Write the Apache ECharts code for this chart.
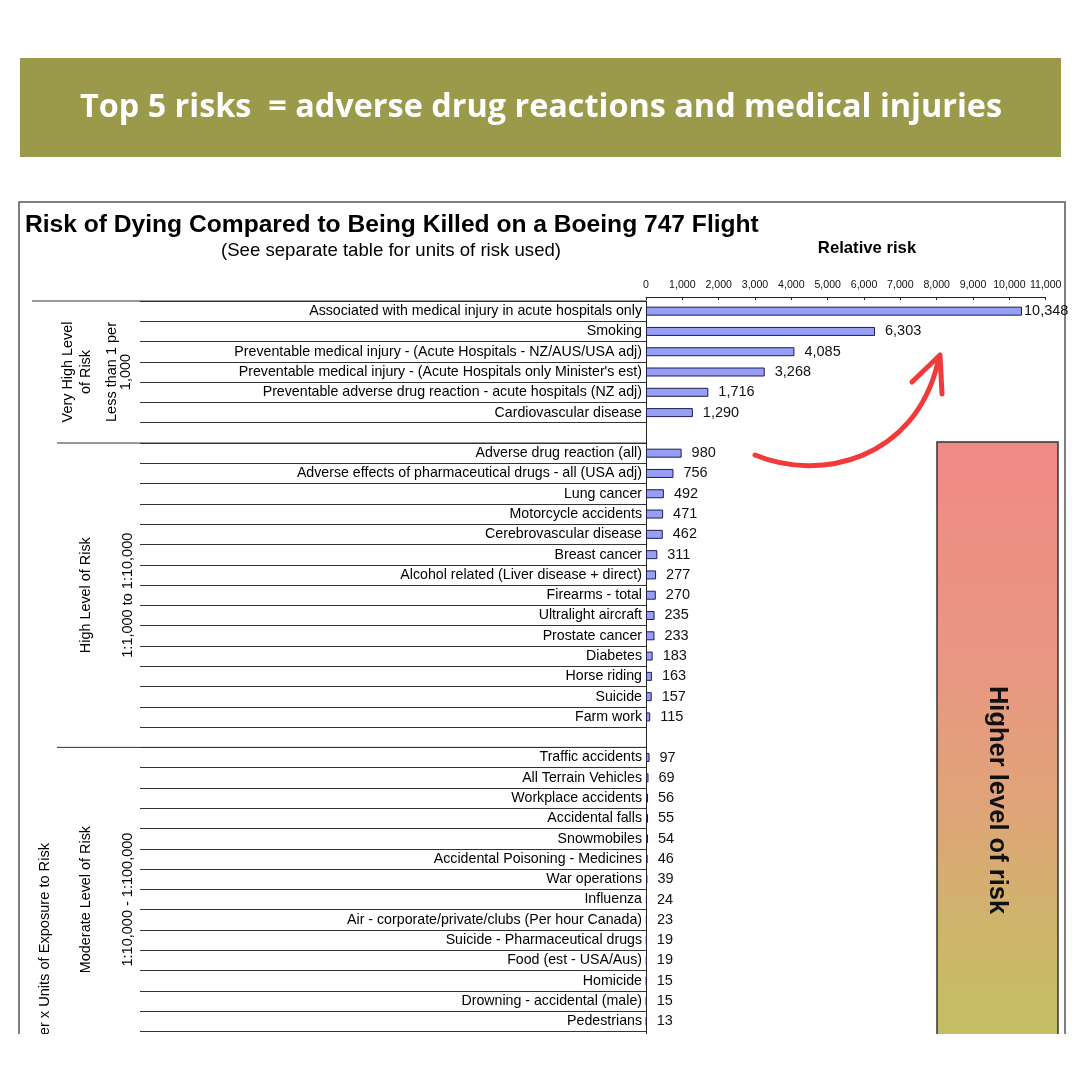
<!DOCTYPE html>
<html>
<head>
<meta charset="utf-8">
<script src="https://cdn.jsdelivr.net/npm/echarts@6/dist/echarts.min.js"></script>
<style>html,body{margin:0;padding:0;background:#fff;}#c{width:1080px;height:1080px;}</style>
</head>
<body>
<div id="c"></div>
<script>
// ---- Data ----
const veryHighNames = [
  'Associated with medical injury in acute hospitals only',
  'Smoking',
  'Preventable medical injury - (Acute Hospitals - NZ/AUS/USA adj)',
  "Preventable medical injury - (Acute Hospitals only Minister's est)",
  'Preventable adverse drug reaction - acute hospitals (NZ adj)',
  'Cardiovascular disease'
];
const veryHighValues = [10348, 6303, 4085, 3268, 1716, 1290];

const highNames = [
  'Adverse drug reaction (all)',
  'Adverse effects of pharmaceutical drugs - all (USA adj)',
  'Lung cancer',
  'Motorcycle accidents',
  'Cerebrovascular disease',
  'Breast cancer',
  'Alcohol related (Liver disease + direct)',
  'Firearms - total',
  'Ultralight aircraft',
  'Prostate cancer',
  'Diabetes',
  'Horse riding',
  'Suicide',
  'Farm work'
];
const highValues = [980, 756, 492, 471, 462, 311, 277, 270, 235, 233, 183, 163, 157, 115];

const moderateNames = [
  'Traffic accidents',
  'All Terrain Vehicles',
  'Workplace accidents',
  'Accidental falls',
  'Snowmobiles',
  'Accidental Poisoning - Medicines',
  'War operations',
  'Influenza',
  'Air - corporate/private/clubs (Per hour Canada)',
  'Suicide - Pharmaceutical drugs',
  'Food (est - USA/Aus)',
  'Homicide',
  'Drowning - accidental (male)',
  'Pedestrians'
];
const moderateValues = [97, 69, 56, 55, 54, 46, 39, 24, 23, 19, 19, 15, 15, 13];

const xTicks = [0, 1000, 2000, 3000, 4000, 5000, 6000, 7000, 8000, 9000, 10000, 11000];

const groupTitles = ['Very High Level\nof Risk', 'High Level of Risk', 'Moderate Level of Risk'];
const groupRanges = ['Less than 1 per\n1,000', '1:1,000 to 1:10,000', '1:10,000 - 1:100,000'];

// ---- Build category list (each group followed by a blank spacer row) ----
const categories = [].concat(veryHighNames, [' '], highNames, ['  '], moderateNames, ['   ']);
const values = [].concat(veryHighValues, [null], highValues, [null], moderateValues, [null]);
const groupSizes = [veryHighNames.length + 1, highNames.length + 1, moderateNames.length + 1];

const FONT = '"Liberation Sans", Arial, sans-serif';
const nRows = categories.length;
const rowH = 20.29;
const gridTop = 301;
const gridH = nRows * rowH;

const chart = echarts.init(document.getElementById('c'), null, {renderer: 'canvas'});

const barData = values.map((v, i) => {
  if (v === null) return null;
  const item = {value: v};
  if (i === 0) item.label = {distance: 2};
  return item;
});

chart.setOption({
  animation: false,
  backgroundColor: '#ffffff',
  grid: [
    {left: 646, right: 1080 - 1045.7, top: gridTop, height: gridH, containLabel: false},
    {left: 140, width: 506, top: gridTop, height: gridH, containLabel: false}
  ],
  xAxis: [
    {
      type: 'value', gridIndex: 0, position: 'top', offset: 4,
      min: xTicks[0], max: xTicks[xTicks.length - 1], interval: xTicks[1] - xTicks[0],
      axisLine: {show: true, lineStyle: {color: '#222', width: 1}},
      axisTick: {show: true, inside: true, length: 3, lineStyle: {color: '#222'}},
      splitLine: {show: false},
      axisLabel: {
        fontFamily: FONT, fontSize: 10.6, color: '#111', margin: 6,
        formatter: v => v.toLocaleString('en-US')
      }
    },
    {type: 'value', gridIndex: 1, show: false, min: 0, max: 1}
  ],
  yAxis: [
    {
      type: 'category', gridIndex: 0, data: categories, inverse: true,
      axisLine: {show: true, lineStyle: {color: '#222', width: 1}},
      axisTick: {show: false},
      axisLabel: {fontFamily: FONT, fontSize: 14.2, color: '#000', margin: 4},
      splitLine: {show: false}
    },
    {
      type: 'category', gridIndex: 1, data: categories, inverse: true,
      axisLine: {show: false}, axisTick: {show: false}, axisLabel: {show: false},
      splitLine: {show: true, lineStyle: {color: '#333', width: 1}}
    }
  ],
  series: [{
    type: 'bar', xAxisIndex: 0, yAxisIndex: 0,
    data: barData,
    barWidth: 9,
    itemStyle: {color: '#979ff5', borderColor: '#1d1d55', borderWidth: 1},
    label: {
      show: true, position: 'right', distance: 10,
      fontFamily: FONT, fontSize: 14.5, color: '#111',
      formatter: p => (p.value == null ? '' : Number(p.value).toLocaleString('en-US'))
    }
  }]
});

// ---- Decorations positioned from the category axis ----
const c0 = chart.convertToPixel({yAxisIndex: 0}, 0);
const c1 = chart.convertToPixel({yAxisIndex: 0}, 1);
const band = c1 - c0;
const boundary = i => c0 - band / 2 + i * band;
const axisX = chart.convertToPixel({xAxisIndex: 0}, 0);

const g = [];
// banner
g.push({type: 'rect', shape: {x: 20, y: 58, width: 1041, height: 99}, style: {fill: '#9b9a4b'}});
g.push({type: 'text', x: 541, y: 108, style: {
  text: 'Top 5 risks  = adverse drug reactions and medical injuries',
  font: 'bold 32.4px "Open Sans", sans-serif', fill: '#ffffff', align: 'center', verticalAlign: 'middle'}});
// frame
g.push({type: 'polyline', shape: {points: [[19, 1045], [19, 202], [1065, 202], [1065, 1045]]},
  style: {stroke: '#555', lineWidth: 1.5, fill: null}});
// titles
g.push({type: 'text', x: 25, y: 225, style: {text: 'Risk of Dying Compared to Being Killed on a Boeing 747 Flight',
  font: 'bold 24.6px ' + FONT, fill: '#000', align: 'left', verticalAlign: 'middle'}});
g.push({type: 'text', x: 391, y: 251, style: {text: '(See separate table for units of risk used)',
  font: '18.6px ' + FONT, fill: '#000', align: 'center', verticalAlign: 'middle'}});
g.push({type: 'text', x: 867, y: 248, style: {text: 'Relative risk',
  font: 'bold 16.7px ' + FONT, fill: '#000', align: 'center', verticalAlign: 'middle'}});
// top divider and group dividers
g.push({type: 'line', shape: {x1: 32, y1: boundary(0), x2: axisX, y2: boundary(0)}, style: {stroke: '#333', lineWidth: 1}});
let acc = 0;
const groupBounds = [];
groupSizes.forEach((s, gi) => {
  groupBounds.push([acc, acc + s]);
  if (gi > 0) {
    g.push({type: 'line', shape: {x1: 57, y1: boundary(acc), x2: axisX, y2: boundary(acc)}, style: {stroke: '#333', lineWidth: 1}});
  }
  acc += s;
});
// group rotated labels
groupBounds.forEach((b, gi) => {
  const cy = (boundary(b[0]) + boundary(b[1])) / 2;
  g.push({type: 'text', x: gi === 0 ? 77 : 86, y: cy, rotation: Math.PI / 2, style: {
    text: groupTitles[gi], font: '14.4px ' + FONT, fill: '#000', align: 'center', verticalAlign: 'middle', lineHeight: 18}});
  g.push({type: 'text', x: gi === 0 ? 119 : 128, y: cy, rotation: Math.PI / 2, style: {
    text: groupRanges[gi], font: '14.5px ' + FONT, fill: '#000', align: 'center', verticalAlign: 'middle', lineHeight: 14}});
});
g.push({type: 'text', x: 45, y: 843, rotation: Math.PI / 2, style: {
  text: 'Number x Units of Exposure to Risk', font: '14.6px ' + FONT, fill: '#000', align: 'right', verticalAlign: 'middle'}});
// gradient box
g.push({type: 'rect', shape: {x: 937, y: 442, width: 121, height: 600}, style: {
  fill: {type: 'linear', x: 0, y: 0, x2: 0, y2: 1, colorStops: [
    {offset: 0, color: '#f18a86'}, {offset: 0.35, color: '#e99683'}, {offset: 0.6, color: '#e0a378'},
    {offset: 0.8, color: '#cfb46c'}, {offset: 1, color: '#c3bf62'}]},
  stroke: '#333', lineWidth: 1.5}});
g.push({type: 'text', x: 997, y: 800, rotation: -Math.PI / 2, style: {
  text: 'Higher level of risk', font: 'bold 25.5px ' + FONT, fill: '#111', align: 'center', verticalAlign: 'middle'}});
// red arrow
g.push({type: 'bezierCurve', shape: {x1: 755, y1: 455, cpx1: 820, cpy1: 482, cpx2: 915, cpy2: 460, x2: 938, y2: 362},
  style: {stroke: '#f23a3a', lineWidth: 5, fill: null, lineCap: 'round'}});
g.push({type: 'polyline', shape: {points: [[912, 382], [940, 355], [942, 394]]},
  style: {stroke: '#f23a3a', lineWidth: 5, fill: null, lineCap: 'round', lineJoin: 'round'}});
// bottom clip mask
g.push({type: 'rect', z: 100, shape: {x: 0, y: 1034, width: 1080, height: 46}, style: {fill: '#ffffff'}});

chart.setOption({graphic: {elements: g}});
</script>
</body>
</html>
